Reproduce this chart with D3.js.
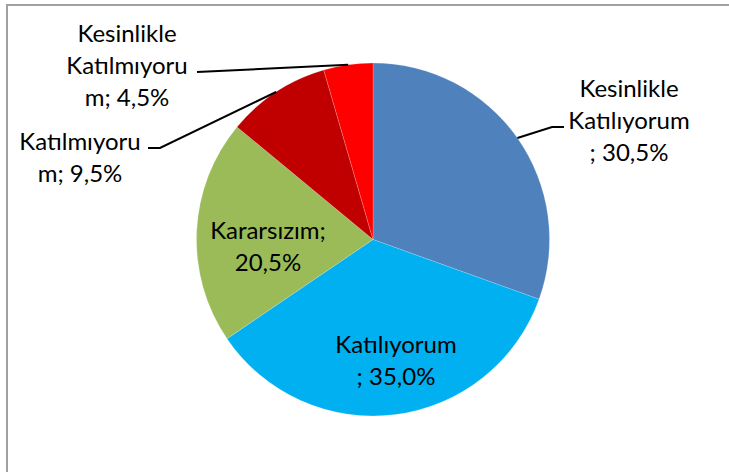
<!DOCTYPE html>
<html>
<head>
<meta charset="utf-8">
<script src="https://cdn.jsdelivr.net/npm/d3@7"></script>
<style>
  body { margin: 0; background: #fff; }
  svg { display: block; }
</style>
</head>
<body>
<svg id="chart" width="729" height="472"></svg>
<script>
// answers, clockwise from 12 o'clock
const categories = ["Kesinlikle Katılıyorum", "Katılıyorum", "Kararsızım", "Katılmıyorum", "Kesinlikle Katılmıyorum"];
const percents = [30.5, 35.0, 20.5, 9.5, 4.5];
const labelLines = [
    ["Kesinlikle", "Katılıyorum", "; 30,5%"],
    ["Katılıyorum", "; 35,0%"],
    ["Kararsızım;", "20,5%"],
    ["Katılmıyoru", "m; 9,5%"],
    ["Kesinlikle", "Katılmıyoru", "m; 4,5%"]
];
const colors = ["#4F81BD", "#00B0F0", "#9BBB59", "#C00000", "#FF0000"];

const width = 729, height = 472;
const cx = 373, cy = 239.5, r = 176.5;
const lineH = 32;

const svg = d3.select("#chart");

// frame (top and left edges visible)
svg.append("line").attr("x1", 6).attr("y1", 5).attr("x2", width).attr("y2", 5)
    .attr("stroke", "#a0a0a0").attr("stroke-width", 2);
svg.append("line").attr("x1", 7).attr("y1", 4).attr("x2", 7).attr("y2", height)
    .attr("stroke", "#a0a0a0").attr("stroke-width", 2);

const data = categories.map((c, i) => ({name: c, value: percents[i], lines: labelLines[i], color: colors[i]}));

const pie = d3.pie().value(d => d.value).sort(null);
const arcs = pie(data);
const arc = d3.arc().innerRadius(0).outerRadius(r);
const edge = d3.arc().innerRadius(r).outerRadius(r);

const g = svg.append("g").attr("transform", `translate(${cx},${cy})`);
g.selectAll("path").data(arcs).enter().append("path")
    .attr("d", arc)
    .attr("fill", d => d.data.color)
    .attr("stroke", "#ffffff")
    .attr("stroke-opacity", 0.3)
    .attr("stroke-width", 0.6);

// label placement: text block centre x, first baseline y, and leader elbow
const labelPos = [
    {x: 629, y: 97, elbow: [552, 127], end: [564, 127]},
    {x: 396, y: 353},
    {x: 268, y: 239},
    {x: 80, y: 150, elbow: [160, 148], end: [148, 148]},
    {x: 127, y: 42, elbow: null, end: [197, 72]}
];

arcs.forEach((a, i) => {
    const p = labelPos[i];
    if (p.end) {
        const e = edge.centroid(a);
        const pts = [[cx + e[0], cy + e[1]]];
        if (p.elbow) pts.push(p.elbow);
        pts.push(p.end);
        svg.append("path")
            .attr("d", d3.line()(pts))
            .attr("fill", "none")
            .attr("stroke", "#000")
            .attr("stroke-width", 2);
    }
    const t = svg.append("text")
        .attr("x", p.x).attr("y", p.y)
        .attr("text-anchor", "middle")
        .attr("font-family", "Lato, 'Open Sans', sans-serif")
        .attr("font-size", 24)
        .attr("fill", "#000");
    a.data.lines.forEach((ln, k) => {
        t.append("tspan").attr("x", p.x).attr("y", p.y + k * lineH).text(ln);
    });
});
</script>
</body>
</html>
